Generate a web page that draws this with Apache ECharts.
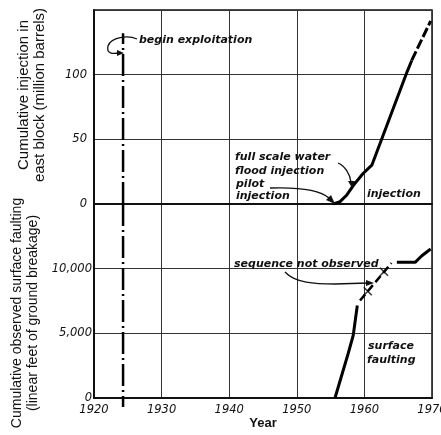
<!DOCTYPE html>
<html>
<head>
<meta charset="utf-8">
<script src="https://cdn.jsdelivr.net/npm/echarts@6/dist/echarts.min.js"></script>
<style>
html, body { margin: 0; padding: 0; background: #fff; }
#chart { width: 441px; height: 435px; }
</style>
</head>
<body>
<div id="chart"></div>
<script>
// injection, east block (million barrels)
const injYears = [1955.4, 1956.4, 1957.4, 1958.4, 1959.8, 1961.1, 1966.3, 1967.0]
const injValues = [0, 1.8, 7, 14.6, 23.6, 30, 102, 111]
const injDashYears = [1967.0, 1969.8]
const injDashValues = [111, 141.5]

// surface faulting (linear feet)
const faultYears = [1955.65, 1957.6, 1958.35, 1958.95]
const faultValues = [0, 3440, 4850, 7150]
const faultGapYears = [1959.35, 1964.0]
const faultGapValues = [7540, 10440]
const faultMarkYears = [1960.5, 1962.9]
const faultMarkValues = [8250, 9760]
const faultLateYears = [1964.8, 1967.5, 1968.5, 1969.8]
const faultLateValues = [10490, 10490, 11000, 11520]

// begin exploitation
const beginYear = 1924.3
const beginInjRange = [0, 132]
const beginFaultRange = [15000, -700]

const xTicks = [1920, 1930, 1940, 1950, 1960, 1970]

const pairs = (xs, ys) => xs.map((x, i) => [x, ys[i]])

const chart = echarts.init(document.getElementById('chart'))

const tickFont = {
  fontFamily: 'DejaVu Sans',
  fontStyle: 'italic',
  fontSize: 11.5,
  color: '#111'
}
const noteFont = {
  fontFamily: 'DejaVu Sans',
  fontStyle: 'italic',
  fontWeight: 'bold',
  fontSize: 11,
  fill: '#111'
}

const gridLine = { lineStyle: { color: '#333', width: 1 } }
const axisLine = { show: true, lineStyle: { color: '#111', width: 2 } }

const note = (text, x, y) => ({
  type: 'text', x: x, y: y, z: 10,
  style: Object.assign({ text: text, verticalAlign: 'middle' }, noteFont)
})
const curve = (x1, y1, cpx1, cpy1, cpx2, cpy2, x2, y2) => ({
  type: 'bezierCurve', z: 10,
  shape: { x1, y1, cpx1, cpy1, cpx2, cpy2, x2, y2 },
  style: { stroke: '#111', lineWidth: 1.3, fill: null }
})
const head = (pts) => ({
  type: 'polygon', z: 10, shape: { points: pts }, style: { fill: '#111' }
})

const line = (data, xi, extra) => Object.assign({
  type: 'line',
  xAxisIndex: xi,
  yAxisIndex: xi,
  data: data,
  showSymbol: false,
  silent: true,
  lineStyle: { color: '#000', width: 3 },
  z: 5
}, extra || {})

const option = {
  animation: false,
  backgroundColor: '#fff',
  grid: [
    { left: 94, top: 10, width: 338, height: 194, show: true, borderColor: '#111', borderWidth: 1.5,
      containLabel: false, outerBoundsMode: 'none' },
    { left: 94, top: 204, width: 338, height: 194, show: true, borderColor: '#111', borderWidth: 1.5,
      containLabel: false, outerBoundsMode: 'none' }
  ],
  xAxis: [
    {
      gridIndex: 0, type: 'value', min: xTicks[0], max: xTicks[xTicks.length - 1], interval: 10,
      axisLabel: { show: false }, axisTick: { show: false }, axisLine: axisLine, splitLine: gridLine
    },
    {
      gridIndex: 1, type: 'value', min: xTicks[0], max: xTicks[xTicks.length - 1], interval: 10,
      axisLabel: Object.assign({ margin: 6, formatter: v => String(v) }, tickFont),
      axisTick: { show: false }, axisLine: axisLine, splitLine: gridLine,
      name: 'Year', nameLocation: 'middle', nameGap: 17,
      nameTextStyle: { fontFamily: 'Liberation Sans', fontWeight: 'bold', fontSize: 13, color: '#111' }
    }
  ],
  yAxis: [
    {
      gridIndex: 0, type: 'value', min: 0, max: 150, interval: 50,
      axisLabel: Object.assign({ margin: 7, formatter: v => v === 150 ? '' : String(v) }, tickFont),
      axisTick: { show: false }, axisLine: axisLine, splitLine: gridLine,
      name: 'Cumulative injection in\neast block (million barrels)',
      nameLocation: 'middle', nameRotate: 90, nameGap: 46,
      nameTextStyle: { fontFamily: 'Liberation Sans', fontSize: 15, lineHeight: 16, color: '#111', padding: [0, 0, 0, 24] }
    },
    {
      gridIndex: 1, type: 'value', min: 0, max: 15000, interval: 5000,
      axisLabel: Object.assign({ margin: 2, formatter: v => v === 15000 ? '' : v.toLocaleString('en-US') }, tickFont),
      axisTick: { show: false }, axisLine: axisLine, splitLine: gridLine,
      name: 'Cumulative observed surface faulting\n(linear feet of ground breakage)',
      nameLocation: 'middle', nameRotate: 90, nameGap: 46,
      nameTextStyle: { fontFamily: 'Liberation Sans', fontSize: 14, lineHeight: 16, color: '#111', padding: [0, 24, 0, 0] }
    }
  ],
  series: [
    line(pairs([beginYear, beginYear], beginInjRange), 0,
      { lineStyle: { color: '#000', width: 2.5, type: [22, 4, 2, 4] } }),
    line(pairs([beginYear, beginYear], beginFaultRange), 1,
      { clip: false, lineStyle: { color: '#000', width: 2.5, type: [22, 4, 2, 4] } }),
    line(pairs(injYears, injValues), 0),
    line(pairs(injDashYears, injDashValues), 0,
      { lineStyle: { color: '#000', width: 3, type: [10, 3] } }),
    line(pairs(faultYears, faultValues), 1),
    line(pairs(faultGapYears, faultGapValues), 1,
      { lineStyle: { color: '#000', width: 2.5, type: [8, 4] } }),
    line(pairs(faultLateYears, faultLateValues), 1),
    {
      type: 'scatter', xAxisIndex: 1, yAxisIndex: 1, silent: true, z: 6,
      data: pairs(faultMarkYears, faultMarkValues),
      symbol: 'path://M0,0L10,10M10,0L0,10', symbolSize: 8,
      itemStyle: { color: 'none', borderColor: '#000', borderWidth: 1.5 }
    }
  ],
  graphic: [
    note('begin exploitation', 139, 40),
    curve(137, 39, 128, 35, 111, 37, 108, 46),
    curve(108, 46, 106, 54, 113, 54, 119, 53),
    head([[124, 53], [117, 50], [117, 56]]),

    note('full scale water', 235, 157),
    note('flood injection', 235, 171),
    curve(338, 163, 345, 166, 350, 174, 351, 182),
    head([[352, 188], [348, 181], [355, 181]]),

    note('pilot', 236, 184),
    note('injection', 236, 196),
    curve(270, 188, 300, 187, 320, 190, 329, 198),
    head([[335, 204], [326, 200], [331, 195]]),

    note('injection', 367, 194),

    note('sequence not observed', 234, 264),
    curve(285, 272, 295, 283, 315, 284, 335, 284),
    { type: 'line', z: 10, shape: { x1: 335, y1: 284, x2: 368, y2: 283 }, style: { stroke: '#111', lineWidth: 1.3 } },
    head([[374, 283], [366, 280], [366, 286]]),

    note('surface', 368, 346),
    note('faulting', 367, 360)
  ]
}

chart.setOption(option)
window.addEventListener('resize', () => chart.resize())
</script>
</body>
</html>
